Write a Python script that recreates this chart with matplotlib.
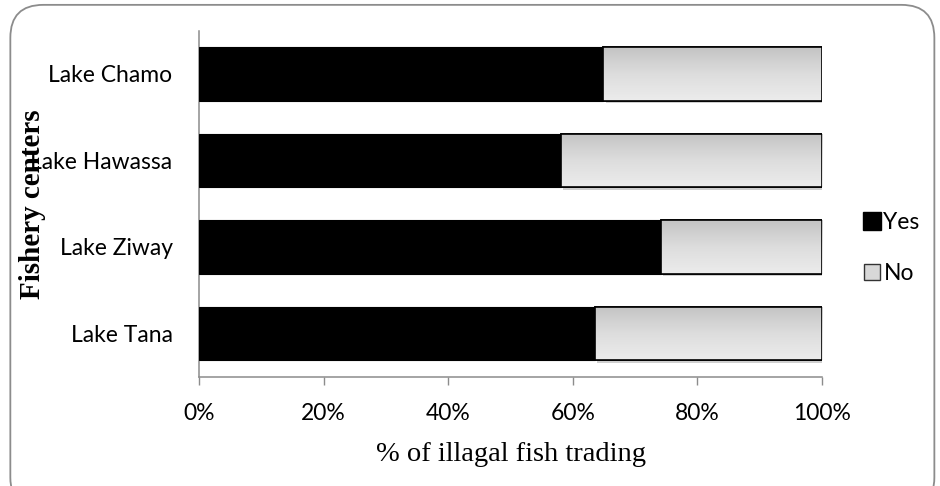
import numpy as np
import matplotlib
matplotlib.use("Agg")
import matplotlib.pyplot as plt
from matplotlib.patches import FancyBboxPatch
from matplotlib.lines import Line2D
from matplotlib.colors import LinearSegmentedColormap

# categories from bottom to top
centers = ['Lake Tana', 'Lake Ziway', 'Lake Hawassa', 'Lake Chamo']
yes_pct = [63.5, 74.1, 58.1, 64.9]
no_pct = [100 - v for v in yes_pct]
x_ticks = [0, 20, 40, 60, 80, 100]
x_tick_labels = ['0%', '20%', '40%', '60%', '80%', '100%']

label_font = ['Lato', 'DejaVu Sans']
serif_font = ['Liberation Serif', 'DejaVu Serif']

fig = plt.figure(figsize=(9.4, 4.86), dpi=100)
ax = fig.add_axes([0.2117, 0.2249, 0.6628, 0.7119])

# outer rounded frame
frame = FancyBboxPatch((0.011, -0.05), 0.983, 1.04, boxstyle="round,pad=0,rounding_size=0.035",
                       transform=fig.transFigure, facecolor='none', edgecolor='#8c8c8c',
                       linewidth=1.3, zorder=0, mutation_aspect=940 / 486)
fig.patches.append(frame)

ypos = np.arange(len(centers))
bar_h = 0.62
ax.barh(ypos, yes_pct, height=bar_h, color='black', edgecolor='black', linewidth=0.8, zorder=3)
no_bars = ax.barh(ypos, no_pct, left=yes_pct, height=bar_h, color='#dcdcdc',
                  edgecolor='black', linewidth=1.2, zorder=3)

# grey gradient inside the "No" bars (lighter top, darker bottom)
grey_cmap = LinearSegmentedColormap.from_list('g', ['#ececec', '#dddddd', '#c4c4c4'])
grad = np.linspace(0, 1, 100).reshape(-1, 1)
for p in no_bars:
    x0, y0, w, h = p.get_x(), p.get_y(), p.get_width(), p.get_height()
    # soft shadow
    ax.add_patch(plt.Rectangle((x0 + 0.4, y0 - 0.03), w, h, color='#cfcfcf', zorder=2, linewidth=0))
    im = ax.imshow(grad, extent=(x0, x0 + w, y0 + h, y0), cmap=grey_cmap,
                   aspect='auto', origin='upper', zorder=3.5, interpolation='bilinear')
    im.set_clip_path(p)
    ax.add_patch(plt.Rectangle((x0, y0), w, h, fill=False, edgecolor='black', linewidth=1.2, zorder=4))

ax.set_xlim(0, 100)
ax.set_ylim(-0.5, len(centers) - 0.5)
ax.set_xticks(x_ticks)
ax.set_xticklabels(x_tick_labels, family=label_font, fontsize=16.5)
ax.set_yticks(ypos)
ax.set_yticklabels(centers, family=label_font, fontsize=16.5)
ax.tick_params(axis='y', length=0, pad=19)
ax.tick_params(axis='x', length=6, width=1, color='#8c8c8c', direction='out', pad=13)

for s in ['top', 'right']:
    ax.spines[s].set_visible(False)
for s in ['left', 'bottom']:
    ax.spines[s].set_color('#8c8c8c')
    ax.spines[s].set_linewidth(1.1)

ax.set_xlabel('% of illagal fish trading', family=serif_font, fontsize=20.5, labelpad=13)
fig.text(0.035, 0.58, 'Fishery centers', rotation=90, ha='center', va='center',
         family=serif_font, fontsize=21, fontweight='bold')

handles = [Line2D([], [], marker='s', linestyle='none', markersize=13, markerfacecolor='black',
                  markeredgecolor='black'),
           Line2D([], [], marker='s', linestyle='none', markersize=11, markerfacecolor='#d8d8d8',
                  markeredgecolor='#333333')]
fig.legend(handles, ['Yes', 'No'], loc='center left', bbox_to_anchor=(0.896, 0.49),
           frameon=False, prop={'family': label_font, 'size': 16.5}, handlelength=0.8,
           handletextpad=0.1, labelspacing=1.3)

fig.savefig('out.png', dpi=100)
